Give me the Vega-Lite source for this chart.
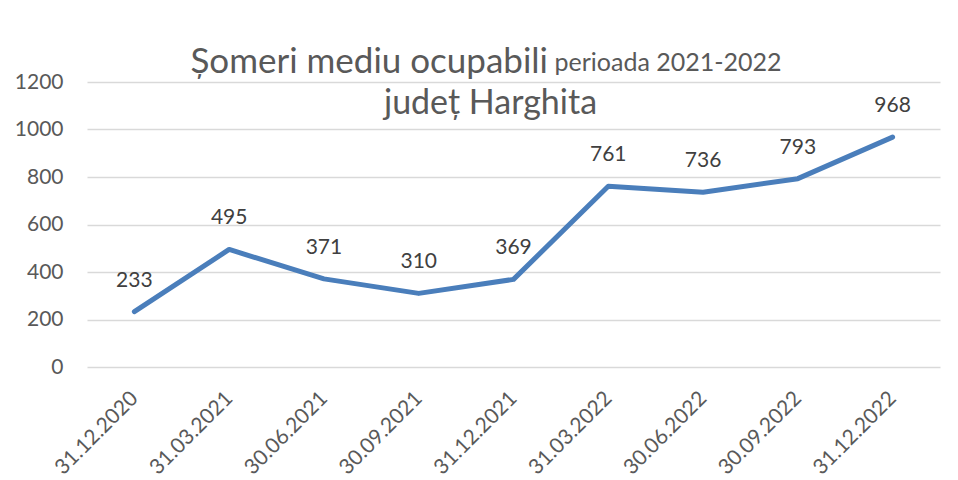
{
  "$schema": "https://vega.github.io/schema/vega-lite/v6.json",
  "width": 853,
  "height": 285,
  "autosize": {"type": "none"},
  "padding": {"left": 87, "top": 82, "right": 18, "bottom": 113},
  "background": "white",
  "config": {
    "font": "Lato",
    "view": {"stroke": null}
  },
  "title": {
    "text": "Șomeri mediu ocupabili",
    "anchor": "start",
    "frame": "group",
    "align": "right",
    "dx": 461,
    "baseline": "alphabetic",
    "offset": -58,
    "fontSize": 35,
    "fontWeight": "normal",
    "color": "#595959",
    "font": "Lato"
  },
  "data": {
    "values": [
      {"date": "31.12.2020", "value": 233},
      {"date": "31.03.2021", "value": 495},
      {"date": "30.06.2021", "value": 371},
      {"date": "30.09.2021", "value": 310},
      {"date": "31.12.2021", "value": 369},
      {"date": "31.03.2022", "value": 761},
      {"date": "30.06.2022", "value": 736},
      {"date": "30.09.2022", "value": 793},
      {"date": "31.12.2022", "value": 968}
    ]
  },
  "encoding": {
    "x": {
      "field": "date",
      "type": "nominal",
      "sort": null,
      "scale": {"type": "point", "padding": 0.5},
      "title": "perioada 2021-2022",
      "axis": {
        "domain": false,
        "ticks": false,
        "grid": false,
        "labelAngle": -45,
        "labelAlign": "right",
        "labelBaseline": "middle",
        "labelPadding": 28,
        "labelFontSize": 21,
        "labelColor": "#595959",
        "labelFont": "Lato",
        "titleX": 467,
        "titleY": -297,
        "titleAlign": "left",
        "titleBaseline": "alphabetic",
        "titleAngle": 0,
        "titleFontSize": 25,
        "titleFontWeight": "normal",
        "titleColor": "#595959",
        "titleFont": "Lato"
      }
    },
    "y": {
      "field": "value",
      "type": "quantitative",
      "scale": {"domain": [0, 1200], "nice": false},
      "title": "județ Harghita",
      "axis": {
        "values": [0, 200, 400, 600, 800, 1000, 1200],
        "format": "d",
        "domain": false,
        "ticks": false,
        "grid": true,
        "gridColor": "#d9d9d9",
        "gridWidth": 1.5,
        "labelPadding": 24,
        "labelFontSize": 21,
        "labelColor": "#595959",
        "labelFont": "Lato",
        "titleX": 403,
        "titleY": 31,
        "titleAlign": "center",
        "titleBaseline": "alphabetic",
        "titleAngle": 0,
        "titleFontSize": 34,
        "titleFontWeight": "normal",
        "titleColor": "#595959",
        "titleFont": "Lato"
      }
    }
  },
  "layer": [
    {
      "mark": {"type": "line", "color": "#4A7EBB", "strokeWidth": 5, "strokeCap": "round", "strokeJoin": "round"}
    },
    {
      "mark": {"type": "text", "baseline": "alphabetic", "dy": -25, "fontSize": 21, "color": "#404040", "font": "Lato"},
      "encoding": {"text": {"field": "value", "type": "quantitative"}}
    }
  ]
}
